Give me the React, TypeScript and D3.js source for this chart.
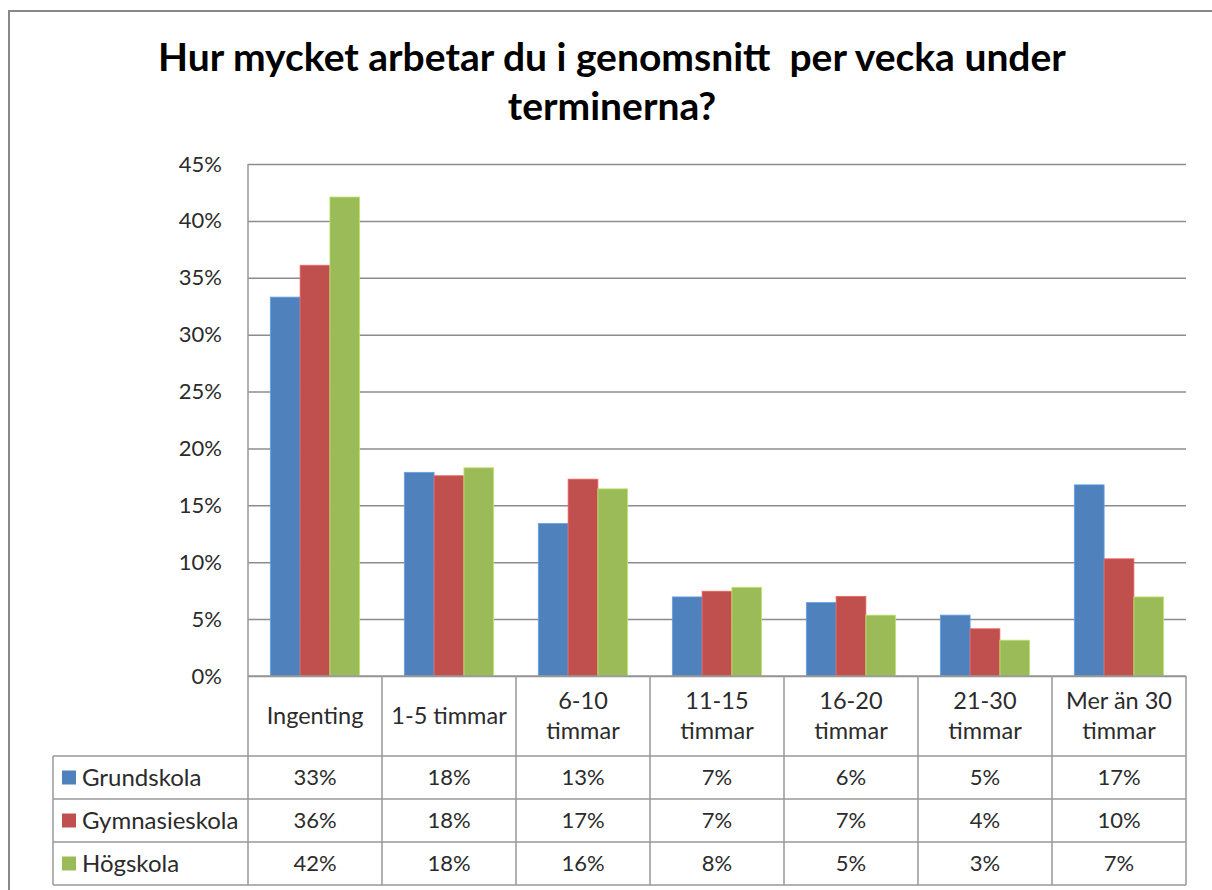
import React, { useRef, useEffect } from 'react';
import * as d3 from 'd3';

// Data
const categories = ['Ingenting', '1-5 timmar', '6-10 timmar', '11-15 timmar', '16-20 timmar', '21-30 timmar', 'Mer än 30 timmar'];
const headerLines = [['Ingenting'], ['1-5 timmar'], ['6-10', 'timmar'], ['11-15', 'timmar'], ['16-20', 'timmar'], ['21-30', 'timmar'], ['Mer än 30', 'timmar']];
const seriesNames = ['Grundskola', 'Gymnasieskola', 'Högskola'];
const grundskola = [33.3, 17.9, 13.4, 6.95, 6.45, 5.35, 16.8];
const gymnasieskola = [36.1, 17.6, 17.3, 7.45, 7.0, 4.15, 10.3];
const hogskola = [42.1, 18.3, 16.45, 7.8, 5.35, 3.15, 6.95];
const yTicks = [0, 5, 10, 15, 20, 25, 30, 35, 40, 45];
const colors = ['#4F81BD', '#C0504D', '#9BBB59'];
const titleLines = ['Hur mycket arbetar du i genomsnitt  per vecka under', 'terminerna?'];

const App = () => {
    const svgRef = useRef<SVGSVGElement>(null);

    useEffect(() => {
        const width = 1212;
        const height = 890;
        const svg = d3.select(svgRef.current);
        svg.selectAll('*').remove();
        svg.attr('width', width).attr('height', height);

        const font = 'Lato, "Open Sans", sans-serif';
        const textColor = '#2b2b2b';
        const values = [grundskola, gymnasieskola, hogskola];

        // plot area
        const left = 248, right = 1186, top = 164, bottom = 676;
        const headerH = 80, rowH = 43;
        const legendLeft = 53;

        svg.append('rect').attr('width', width).attr('height', height).attr('fill', '#fff');

        // outer frame (runs past the page edge, as in the reference)
        svg.append('rect')
            .attr('x', 9).attr('y', 11)
            .attr('width', 1240).attr('height', 920)
            .attr('fill', 'none').attr('stroke', '#888').attr('stroke-width', 2);

        // title
        svg.append('g').selectAll('text')
            .data(titleLines)
            .join('text')
            .attr('x', 612)
            .attr('y', (d, i) => 71 + i * 49)
            .attr('text-anchor', 'middle')
            .attr('font-family', font)
            .attr('font-weight', 'bold')
            .attr('font-size', 39)
            .attr('fill', '#000')
            .style('white-space', 'pre')
            .text(d => d);

        const y = d3.scaleLinear().domain([0, 45]).range([bottom, top]);
        const x = d3.scaleBand().domain(categories).range([left, right]).padding(0);
        const groupW = x.bandwidth() * 3 / 4.5;
        const xs = d3.scaleBand().domain(seriesNames).range([0, groupW]);

        // gridlines
        svg.append('g')
            .attr('transform', `translate(${left},0)`)
            .call(d3.axisLeft(y).tickValues(yTicks).tickSize(-(right - left)).tickFormat(() => ''))
            .call(g => g.select('.domain').remove())
            .call(g => g.selectAll('.tick line').attr('stroke', '#8c8c8c').attr('stroke-width', 1.5));

        // y axis labels
        svg.append('g')
            .attr('transform', `translate(${left},0)`)
            .call(d3.axisLeft(y).tickValues(yTicks).tickSize(0).tickPadding(26).tickFormat(d => `${d}%`))
            .call(g => g.select('.domain').remove())
            .call(g => g.selectAll('text')
                .attr('font-family', font)
                .attr('font-size', 22)
                .attr('fill', textColor));

        // bars
        seriesNames.forEach((name, si) => {
            svg.append('g').selectAll('rect')
                .data(values[si])
                .join('rect')
                .attr('x', (d, i) => x(categories[i])! + (x.bandwidth() - groupW) / 2 + xs(name)!)
                .attr('y', d => y(d))
                .attr('width', xs.bandwidth())
                .attr('height', d => bottom - y(d))
                .attr('fill', colors[si])
                .attr('stroke', d3.color(colors[si])!.brighter(0.6).toString())
                .attr('stroke-width', 0.8);
        });

        // data table
        const lineColor = '#999';
        const tableBottom = bottom + headerH + rowH * 3;
        const tg = svg.append('g');

        // vertical lines
        tg.selectAll('line.v')
            .data(d3.range(categories.length + 1))
            .join('line')
            .attr('x1', i => left + i * x.bandwidth())
            .attr('x2', i => left + i * x.bandwidth())
            .attr('y1', i => (i === 0 ? top : bottom))
            .attr('y2', tableBottom)
            .attr('stroke', lineColor).attr('stroke-width', 1.5);
        tg.append('line')
            .attr('x1', legendLeft).attr('x2', legendLeft)
            .attr('y1', bottom + headerH).attr('y2', tableBottom)
            .attr('stroke', lineColor).attr('stroke-width', 1.5);

        // horizontal lines
        tg.append('line')
            .attr('x1', left).attr('x2', right)
            .attr('y1', bottom).attr('y2', bottom)
            .attr('stroke', lineColor).attr('stroke-width', 1.5);
        tg.selectAll('line.h')
            .data(d3.range(4))
            .join('line')
            .attr('x1', legendLeft).attr('x2', right)
            .attr('y1', i => bottom + headerH + i * rowH)
            .attr('y2', i => bottom + headerH + i * rowH)
            .attr('stroke', lineColor).attr('stroke-width', 1.5);

        // header labels
        categories.forEach((c, ci) => {
            const lines = headerLines[ci];
            const cx = x(c)! + x.bandwidth() / 2;
            const cy = bottom + headerH / 2;
            tg.append('g').selectAll('text')
                .data(lines)
                .join('text')
                .attr('x', cx)
                .attr('y', (d, i) => cy + (i - (lines.length - 1) / 2) * 30)
                .attr('dy', '0.35em')
                .attr('text-anchor', 'middle')
                .attr('font-family', font)
                .attr('font-size', 23.5)
                .attr('fill', textColor)
                .text(d => d);
        });

        // rows
        seriesNames.forEach((name, si) => {
            const cy = bottom + headerH + si * rowH + rowH / 2;
            tg.append('rect')
                .attr('x', 62).attr('y', cy - 7)
                .attr('width', 14).attr('height', 14)
                .attr('fill', colors[si]);
            tg.append('text')
                .attr('x', 82).attr('y', cy)
                .attr('dy', '0.35em')
                .attr('font-family', font)
                .attr('font-size', 24)
                .attr('fill', textColor)
                .text(name);
            tg.append('g').selectAll('text')
                .data(values[si])
                .join('text')
                .attr('x', (d, i) => x(categories[i])! + x.bandwidth() / 2)
                .attr('y', cy)
                .attr('dy', '0.35em')
                .attr('text-anchor', 'middle')
                .attr('font-family', font)
                .attr('font-size', 22)
                .attr('fill', textColor)
                .text(d => `${Math.round(d)}%`);
        });
    }, []);

    return (
        <div style={{ position: 'absolute', left: 0, top: 0 }}>
            <svg ref={svgRef}></svg>
        </div>
    );
};

export default App;
